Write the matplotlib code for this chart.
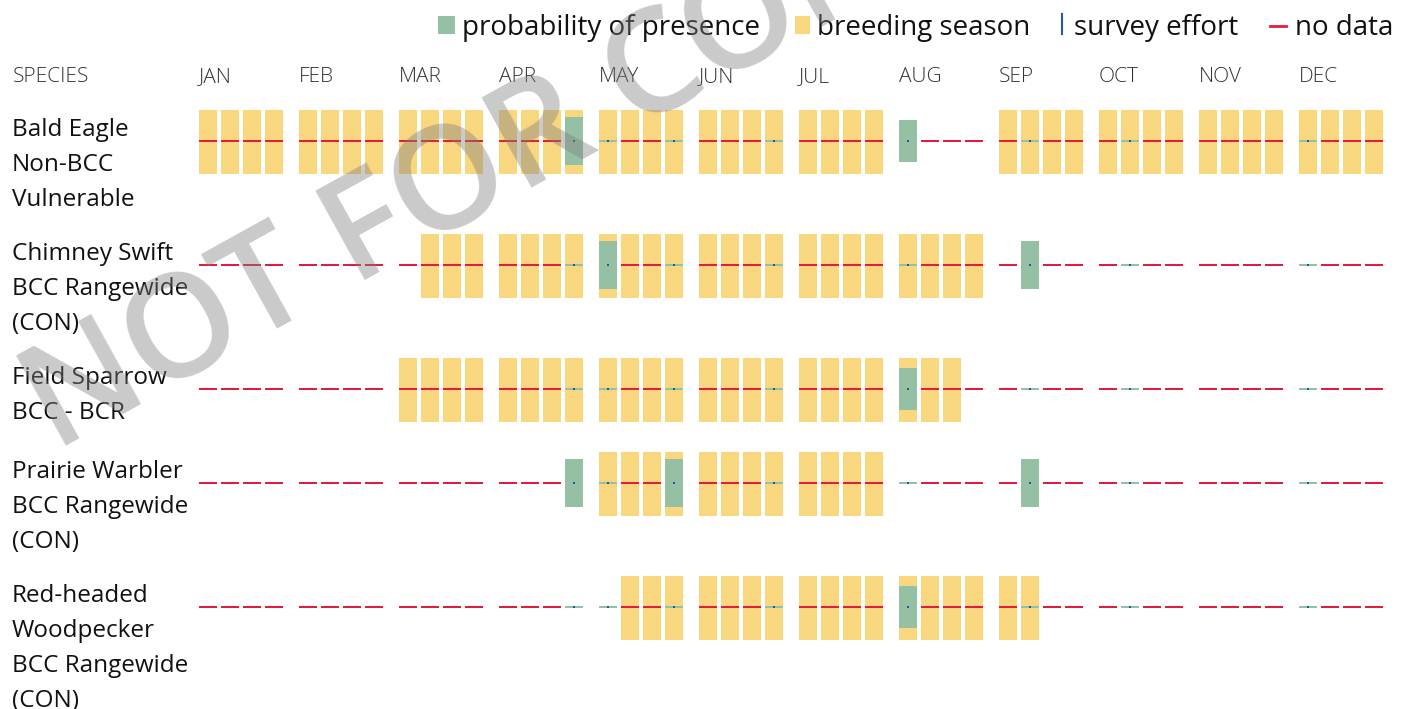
import matplotlib
matplotlib.use("Agg")
import matplotlib.pyplot as plt

# data
months = ["JAN", "FEB", "MAR", "APR", "MAY", "JUN", "JUL", "AUG", "SEP", "OCT", "NOV", "DEC"]
species = [
    ["Bald Eagle", "Non-BCC", "Vulnerable"],
    ["Chimney Swift", "BCC Rangewide", "(CON)"],
    ["Field Sparrow", "BCC - BCR"],
    ["Prairie Warbler", "BCC Rangewide", "(CON)"],
    ["Red-headed", "Woodpecker", "BCC Rangewide", "(CON)"],
]

N = None
# breeding season, one flag per week (4 weeks per month)
breeding = [
    [1]*28 + [0]*4 + [1]*16,
    [0]*8 + [0, 1, 1, 1] + [1]*16 + [1]*4 + [0]*16,
    [0]*8 + [1]*20 + [1, 1, 1, 0] + [0]*16,
    [0]*16 + [1]*12 + [0]*20,
    [0]*16 + [0, 1, 1, 1] + [1]*12 + [1, 1, 0, 0] + [0]*12,
]
# probability of presence per week (None = no data, 0 = surveyed, nothing found)
presence = [
    [N]*12 + [N, N, N, .75] + [0, N, N, 0] + [N, N, N, 0] + [N]*4 + [.66, N, N, N]
    + [N, 0, N, N] + [N, 0, N, N] + [N]*4 + [0, N, N, N],
    [N]*12 + [N, N, N, 0] + [.75, N, N, 0] + [N, N, N, 0] + [N]*4 + [0, N, N, N]
    + [N, .75, N, N] + [N, 0, N, N] + [N]*4 + [0, N, N, N],
    [N]*12 + [N, N, N, 0] + [0, N, N, 0] + [N, N, N, 0] + [N]*4 + [.66, N, N, N]
    + [N, 0, N, N] + [N, 0, N, N] + [N]*4 + [0, N, N, N],
    [N]*12 + [N, N, N, .75] + [0, N, N, .75] + [N, N, N, 0] + [N]*4 + [0, N, N, N]
    + [N, .75, N, N] + [N, 0, N, N] + [N]*4 + [0, N, N, N],
    [N]*12 + [N, N, N, 0] + [0, N, N, 0] + [N, N, N, 0] + [N]*4 + [.66, N, N, N]
    + [N, 0, N, N] + [N, 0, N, N] + [N]*4 + [0, N, N, N],
]

YELLOW = "#f9d77f"
GREEN = "#95c0a3"
RED = "#e31c3d"
BLUE = "#1f5aa0"

plt.rcParams["font.family"] = ["Open Sans", "DejaVu Sans"]

fig = plt.figure(figsize=(14.1, 7.09), dpi=100)
ax = fig.add_axes([0, 0, 1, 1])
ax.set_xlim(0, 1410)
ax.set_ylim(709, 0)
ax.axis("off")

x0, month_w, week_w, cell_w = 199, 100, 22, 18
bar_h, line_h = 64, 35

# header
ax.text(13, 77, "SPECIES", fontsize=15, fontweight="light", color="#333333", va="center")
for m, name in enumerate(months):
    ax.text(x0 + m * month_w, 77, name, fontsize=15, fontweight="light",
            color="#333333", va="center")

top = 110
for s, lines in enumerate(species):
    for i, t in enumerate(lines):
        ax.text(12, top + 20 + i * line_h, t, fontsize=17.5, color="#111111", va="center")
    mid = top + bar_h / 2 - 1
    for k in range(48):
        x = x0 + (k // 4) * month_w + (k % 4) * week_w
        if breeding[s][k]:
            ax.bar(x, bar_h, cell_w, bottom=top, align="edge", color=YELLOW, lw=0)
        p = presence[s][k]
        if p is None:
            ax.bar(x, 2.5, cell_w, bottom=mid - 1.25, align="edge", color=RED, lw=0)
        else:
            h = max(p * bar_h, 2.5)
            ax.bar(x, h, cell_w, bottom=mid - h / 2, align="edge", color=GREEN, lw=0)
            ax.bar(x + cell_w / 2 - 1, 2, 2, bottom=mid - 1, align="edge", color=BLUE, lw=0)
    top += max(len(lines) * line_h + 19, 94)

# legend
ly = 25
ax.bar(438, 18, 17, bottom=ly - 9, align="edge", color=GREEN, lw=0)
ax.text(462, ly + 3, "probability of presence", fontsize=20, va="center", color="#111111")
ax.bar(795, 18, 15, bottom=ly - 9, align="edge", color=YELLOW, lw=0)
ax.text(817, ly + 3, "breeding season", fontsize=20, va="center", color="#111111")
ax.plot([1062, 1062], [ly - 11, ly + 9], color=BLUE, lw=1.5)
ax.text(1074, ly + 3, "survey effort", fontsize=20, va="center", color="#111111")
ax.plot([1270, 1286], [ly + 1, ly + 1], color=RED, lw=2)
ax.text(1295, ly + 3, "no data", fontsize=20, va="center", color="#111111")

# watermark
ax.text(55, 452, "NOT FOR CONSULTATION", fontsize=104, fontweight="semibold",
        color="#808080", alpha=0.42, rotation=29, rotation_mode="anchor",
        ha="left", va="baseline", zorder=10)

fig.savefig("out.png", dpi=100)
